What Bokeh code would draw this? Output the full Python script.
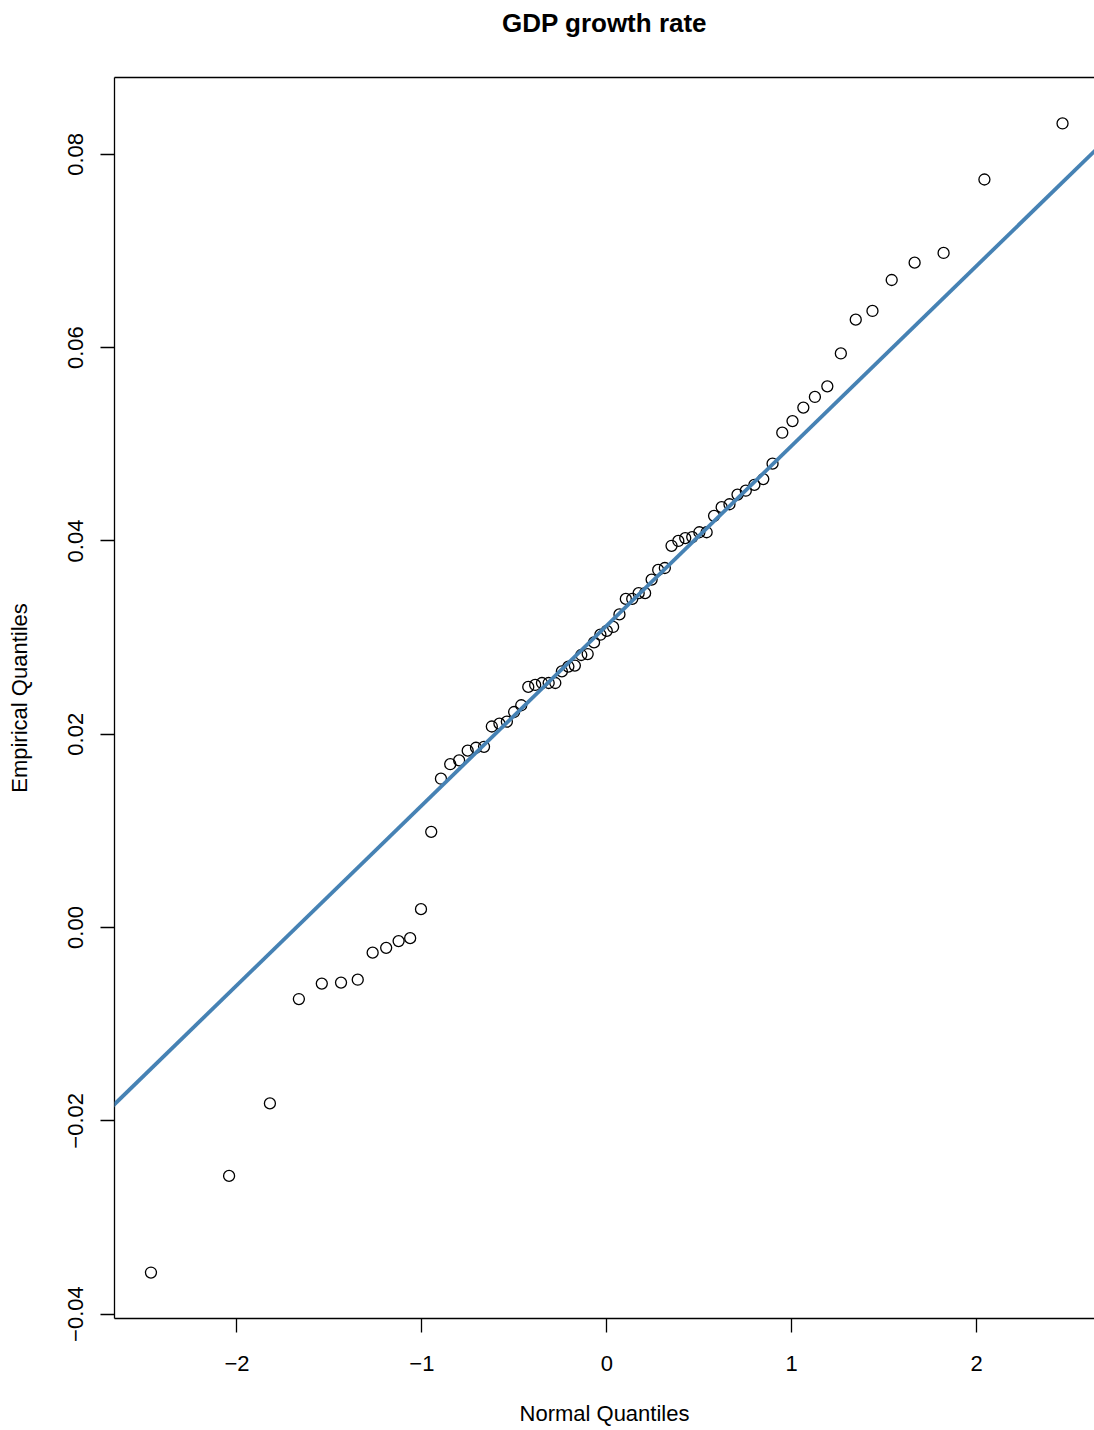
from statistics import NormalDist

import numpy as np
from bokeh.plotting import figure
from bokeh.models import Range1d, FixedTicker, LinearAxis, Slope
from bokeh.embed import file_html
from bokeh.resources import INLINE

# Empirical (sorted) GDP growth rates
gdp_growth = [
    -0.0357, -0.0257, -0.0182, -0.0074, -0.0058, -0.0057, -0.0054, -0.0026,
    -0.0021, -0.0014, -0.0011, 0.0019, 0.0099, 0.0154, 0.0169, 0.0173,
    0.0183, 0.0186, 0.0187, 0.0208, 0.0211, 0.0213, 0.0223, 0.0230,
    0.0249, 0.0251, 0.0253, 0.0253, 0.0253, 0.0265, 0.0270, 0.0271,
    0.0282, 0.0283, 0.0295, 0.0303, 0.0307, 0.0311, 0.0324, 0.0340,
    0.0340, 0.0346, 0.0346, 0.0360, 0.0370, 0.0372, 0.0395, 0.0400,
    0.0403, 0.0404, 0.0409, 0.0409, 0.0426, 0.0435, 0.0438, 0.0448,
    0.0452, 0.0458, 0.0464, 0.0480, 0.0512, 0.0524, 0.0538, 0.0549,
    0.0560, 0.0594, 0.0629, 0.0638, 0.0670, 0.0688, 0.0698, 0.0774,
    0.0832,
]

x_tick_values = [-2, -1, 0, 1, 2]
x_tick_labels = ["\u22122", "\u22121", "0", "1", "2"]
y_tick_values = [-0.04, -0.02, 0.0, 0.02, 0.04, 0.06, 0.08]
y_tick_labels = ["\u22120.04", "\u22120.02", "0.00", "0.02", "0.04", "0.06", "0.08"]

title_text = "GDP growth rate"
x_label = "Normal Quantiles"
y_label = "Empirical Quantiles"

# Theoretical normal quantiles (R's ppoints)
nd = NormalDist()
y_vals = sorted(gdp_growth)
n = len(y_vals)
a = 0.5 if n > 10 else 3.0 / 8.0
normal_q = [nd.inv_cdf((i + 1 - a) / (n + 1 - 2 * a)) for i in range(n)]

# qqline through the quartiles
q1, q3 = np.quantile(y_vals, [0.25, 0.75])
z1, z3 = nd.inv_cdf(0.25), nd.inv_cdf(0.75)
qq_slope = (q3 - q1) / (z3 - z1)
qq_intercept = q1 - qq_slope * z1

# R-style axis ranges (4% padding); the right edge of the original is clipped
xmin, xmax = min(normal_q), max(normal_q)
ymin, ymax = min(y_vals), max(y_vals)
x_start = xmin - 0.04 * (xmax - xmin)
x_full_end = xmax + 0.04 * (xmax - xmin)
visible_fraction = 980.0 / 984.5
x_end = x_start + (x_full_end - x_start) * visible_fraction
y_start = ymin - 0.04 * (ymax - ymin)
y_end = ymax + 0.04 * (ymax - ymin)

FONT = "Liberation Sans"

p = figure(
    width=1094, height=1428,
    output_backend="svg", toolbar_location=None,
    x_range=Range1d(x_start, x_end), y_range=Range1d(y_start, y_end),
    min_border_left=114, min_border_right=0,
    min_border_top=77, min_border_bottom=110,
    background_fill_color="white", border_fill_color="white",
    outline_line_color=None,
)
p.grid.visible = False

# bottom axis
xa = p.xaxis[0]
xa.ticker = FixedTicker(ticks=x_tick_values)
xa.major_label_overrides = {v: s for v, s in zip(x_tick_values, x_tick_labels)}
xa.axis_label = x_label
# left axis
ya = p.yaxis[0]
ya.ticker = FixedTicker(ticks=y_tick_values)
ya.major_label_overrides = {v: s for v, s in zip(y_tick_values, y_tick_labels)}
ya.axis_label = y_label
ya.major_label_orientation = "vertical"

for ax in (xa, ya):
    ax.axis_line_color = "black"
    ax.axis_line_width = 1.3
    ax.major_tick_line_color = "black"
    ax.major_tick_line_width = 1.3
    ax.major_tick_in = 0
    ax.major_tick_out = 14
    ax.minor_tick_line_color = None
    ax.major_label_text_font = FONT
    ax.major_label_text_font_size = "22px"
    ax.major_label_text_color = "black"
    ax.axis_label_text_font = FONT
    ax.axis_label_text_font_size = "22px"
    ax.axis_label_text_font_style = "normal"
    ax.axis_label_text_color = "black"

xa.major_label_standoff = 23
xa.axis_label_standoff = 27
ya.major_label_standoff = 17
ya.axis_label_standoff = 34

# top border of the box, carrying the chart title centred over the frame
top_axis = LinearAxis(
    ticker=FixedTicker(ticks=[]),
    axis_line_color="black", axis_line_width=1.3,
    major_tick_line_color=None, minor_tick_line_color=None,
    major_tick_out=0, major_tick_in=0, major_label_standoff=0,
    major_label_text_font_size="0px",
    axis_label=title_text,
    axis_label_text_font=FONT,
    axis_label_text_font_size="26px",
    axis_label_text_font_style="bold",
    axis_label_text_color="black",
    axis_label_standoff=40,
)
p.add_layout(top_axis, "above")

p.scatter(normal_q, y_vals, marker="circle", size=11,
          fill_color=None, line_color="black", line_width=1.3)

p.add_layout(Slope(gradient=qq_slope, y_intercept=qq_intercept,
                   line_color="#4682B4", line_width=3.8))

open("out.html", "w").write(file_html(p, INLINE))
